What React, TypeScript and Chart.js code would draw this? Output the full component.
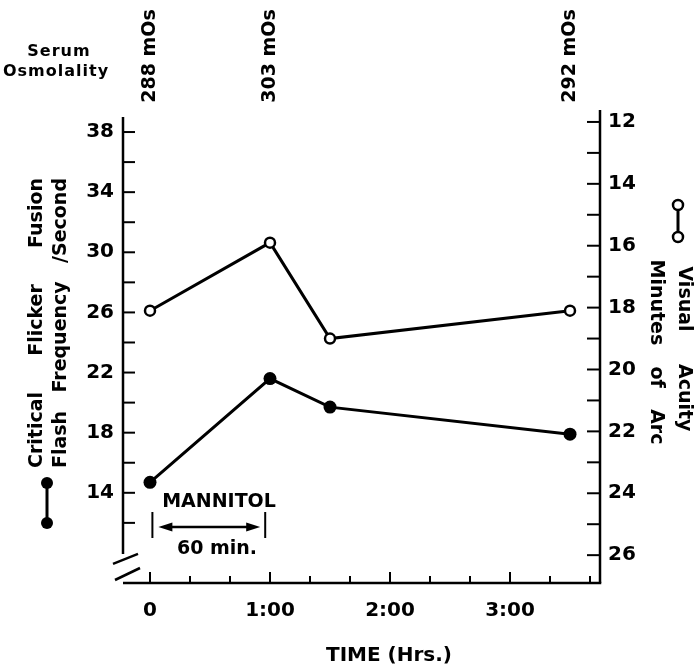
import React, { useEffect, useRef } from "react";
import { Chart, registerables } from "chart.js";

Chart.register(...registerables);

// ---- data ----
const TIME_HRS = [0, 1, 1.5, 3.5];
const CFF_VALUES = [14.7, 21.6, 19.7, 17.9];
const ACUITY_VALUES = [18.1, 15.9, 19.0, 18.1];

const OSMOLALITY_TIMES = [0, 1, 3.5];
const OSMOLALITY_LABELS = ["288 mOs", "303 mOs", "292 mOs"];

const X_LABEL_VALUES = [0, 1, 2, 3];
const X_LABEL_TEXT = ["0", "1:00", "2:00", "3:00"];
const X_MARK_VALUES = [0, 1 / 3, 2 / 3, 1, 4 / 3, 5 / 3, 2, 7 / 3, 8 / 3, 3, 10 / 3, 11 / 3];

const LEFT_LABEL_VALUES = [14, 18, 22, 26, 30, 34, 38];
const LEFT_MARK_VALUES = [12, 14, 16, 18, 20, 22, 24, 26, 28, 30, 32, 34, 36, 38];
const RIGHT_LABEL_VALUES = [12, 14, 16, 18, 20, 22, 24, 26];
const RIGHT_MARK_VALUES = [12, 13, 14, 15, 16, 17, 18, 19, 20, 21, 22, 23, 24, 25, 26];

const MANNITOL_SPAN = [0.02, 0.96];

const FONT = '"DejaVu Sans", sans-serif';

function line(ctx: CanvasRenderingContext2D, x1: number, y1: number, x2: number, y2: number) {
  ctx.beginPath();
  ctx.moveTo(x1, y1);
  ctx.lineTo(x2, y2);
  ctx.stroke();
}

function drawJustified(
  ctx: CanvasRenderingContext2D,
  words: string[],
  cx: number,
  cy: number,
  length: number,
  angle: number
) {
  ctx.save();
  ctx.translate(cx, cy);
  ctx.rotate(angle);
  ctx.textAlign = "left";
  ctx.textBaseline = "middle";
  const widths = words.map((w) => ctx.measureText(w).width);
  const total = widths.reduce((a, b) => a + b, 0);
  const gap = words.length > 1 ? (length - total) / (words.length - 1) : 0;
  let pos = -length / 2;
  words.forEach((w, i) => {
    ctx.fillText(w, pos, 0);
    pos += widths[i] + gap;
  });
  ctx.restore();
}

function circle(ctx: CanvasRenderingContext2D, x: number, y: number, r: number, filled: boolean) {
  ctx.beginPath();
  ctx.arc(x, y, r, 0, Math.PI * 2);
  if (filled) {
    ctx.fillStyle = "#000";
    ctx.fill();
  } else {
    ctx.fillStyle = "#fff";
    ctx.fill();
    ctx.lineWidth = 2.5;
    ctx.stroke();
  }
}

const decorPlugin = {
  id: "decor",
  beforeDatasetsDraw(chart: any) {
    const { ctx, chartArea: a, scales } = chart;
    const xs = scales.x;
    const yl = scales.yL;
    const yr = scales.yR;
    const lx = a.left;
    const rx = a.right;
    const by = a.bottom;
    ctx.save();
    ctx.strokeStyle = "#000";
    ctx.lineCap = "butt";
    ctx.lineWidth = 2.5;
    const breakTop = yl.getPixelForValue(10) + 1;
    line(ctx, lx, a.top, lx, breakTop);
    line(ctx, lx, by, rx + 1.25, by);
    line(ctx, rx, a.top - 7, rx, by);

    ctx.lineWidth = 2;
    LEFT_MARK_VALUES.forEach((v) => {
      const y = yl.getPixelForValue(v);
      line(ctx, lx, y, lx + 12, y);
    });
    RIGHT_MARK_VALUES.forEach((v) => {
      const y = yr.getPixelForValue(v);
      line(ctx, rx - 13, y, rx, y);
    });
    X_MARK_VALUES.forEach((v, i) => {
      const px = xs.getPixelForValue(v);
      const major = i % 3 === 0;
      line(ctx, px, by, px, by - (major ? 11 : 7));
    });

    // axis break
    ctx.lineWidth = 2.5;
    line(ctx, lx - 10, breakTop + 10, lx + 15, breakTop);
    line(ctx, lx - 8, by - 3, lx + 17, by - 15);
    ctx.restore();
  },
  afterDraw(chart: any) {
    const { ctx, scales } = chart;
    const xs = scales.x;
    ctx.save();
    ctx.fillStyle = "#000";
    ctx.strokeStyle = "#000";

    // Serum osmolality
    ctx.font = `bold 16px ${FONT}`;
    ctx.textAlign = "center";
    ctx.textBaseline = "middle";
    (ctx as any).letterSpacing = "1px";
    ctx.fillText("Serum", 59, 52);
    ctx.fillText("Osmolality", 56, 72);
    (ctx as any).letterSpacing = "0px";

    ctx.font = `bold 19px ${FONT}`;
    OSMOLALITY_TIMES.forEach((t, i) => {
      const px = xs.getPixelForValue(t);
      ctx.save();
      ctx.translate(px, 56);
      ctx.rotate(-Math.PI / 2);
      ctx.textAlign = "center";
      ctx.textBaseline = "middle";
      ctx.fillText(OSMOLALITY_LABELS[i], 0, 0);
      ctx.restore();
    });

    // left title
    ctx.font = `bold 19px ${FONT}`;
    drawJustified(ctx, ["Critical", "Flicker", "Fusion"], 37, 323, 290, -Math.PI / 2);
    drawJustified(ctx, ["Flash", "Frequency", "/Second"], 61, 323, 290, -Math.PI / 2);
    // right title
    drawJustified(ctx, ["Visual", "Acuity"], 684, 349, 165, Math.PI / 2);
    drawJustified(ctx, ["Minutes", "of", "Arc"], 656, 352, 185, Math.PI / 2);

    // legend symbols
    ctx.lineWidth = 3;
    line(ctx, 47, 483, 47, 523);
    circle(ctx, 47, 483, 6, true);
    circle(ctx, 47, 523, 6, true);
    ctx.lineWidth = 3;
    line(ctx, 678, 205, 678, 237);
    circle(ctx, 678, 205, 5, false);
    circle(ctx, 678, 237, 5, false);

    // mannitol annotation
    ctx.fillStyle = "#000";
    ctx.font = `bold 19px ${FONT}`;
    ctx.textAlign = "center";
    ctx.textBaseline = "middle";
    ctx.fillText("MANNITOL", 219, 502);
    ctx.fillText("60 min.", 217, 549);
    const x1 = xs.getPixelForValue(MANNITOL_SPAN[0]);
    const x2 = xs.getPixelForValue(MANNITOL_SPAN[1]);
    ctx.lineWidth = 2;
    line(ctx, x1, 512, x1, 538);
    line(ctx, x2, 512, x2, 538);
    const ay = 527;
    ctx.lineWidth = 2.5;
    line(ctx, x1 + 14, ay, x2 - 14, ay);
    ctx.beginPath();
    ctx.moveTo(x1 + 6, ay);
    ctx.lineTo(x1 + 20, ay - 4.5);
    ctx.lineTo(x1 + 20, ay + 4.5);
    ctx.closePath();
    ctx.fill();
    ctx.beginPath();
    ctx.moveTo(x2 - 5, ay);
    ctx.lineTo(x2 - 19, ay - 4.5);
    ctx.lineTo(x2 - 19, ay + 4.5);
    ctx.closePath();
    ctx.fill();

    // x title
    ctx.font = `bold 20px ${FONT}`;
    ctx.textAlign = "center";
    ctx.textBaseline = "middle";
    ctx.fillText("TIME (Hrs.)", 389, 656);
    ctx.restore();
  },
};

export default function App() {
  const ref = useRef<HTMLCanvasElement | null>(null);

  useEffect(() => {
    document.body.style.margin = "0";
    document.body.style.overflow = "hidden";
    const canvas = ref.current;
    if (!canvas) return;
    const tickFont = { family: FONT, size: 20, weight: "bold" as const };
    const chart = new Chart(canvas, {
      type: "line",
      data: {
        datasets: [
          {
            label: "Critical Flicker Fusion",
            data: TIME_HRS.map((t, i) => ({ x: t, y: CFF_VALUES[i] })),
            xAxisID: "x",
            yAxisID: "yL",
            borderColor: "#000",
            borderWidth: 3,
            pointRadius: 6.5,
            pointBackgroundColor: "#000",
            pointBorderColor: "#000",
            pointBorderWidth: 0,
            tension: 0,
            fill: false,
          },
          {
            label: "Visual Acuity",
            data: TIME_HRS.map((t, i) => ({ x: t, y: ACUITY_VALUES[i] })),
            xAxisID: "x",
            yAxisID: "yR",
            borderColor: "#000",
            borderWidth: 3,
            pointRadius: 5,
            pointBackgroundColor: "#fff",
            pointBorderColor: "#000",
            pointBorderWidth: 2.5,
            tension: 0,
            fill: false,
          },
        ],
      },
      options: {
        animation: false,
        responsive: false,
        maintainAspectRatio: false,
        layout: { padding: { top: 117, left: 0, right: 0, bottom: 0 } },
        plugins: {
          legend: { display: false },
          tooltip: { enabled: false },
          title: { display: false },
        },
        scales: {
          x: {
            type: "linear",
            position: "bottom",
            min: -0.225,
            max: 3.75,
            grid: { display: false, drawTicks: false },
            border: { display: false },
            afterBuildTicks: (s: any) => {
              s.ticks = X_LABEL_VALUES.map((v) => ({ value: v }));
            },
            afterFit: (s: any) => {
              s.height = 83;
            },
            ticks: {
              padding: 16,
              color: "#000",
              font: tickFont,
              maxRotation: 0,
              autoSkip: false,
              callback: (v: any) => {
                const i = X_LABEL_VALUES.indexOf(Number(v));
                return i >= 0 ? X_LABEL_TEXT[i] : "";
              },
            },
          },
          yL: {
            type: "linear",
            position: "left",
            min: 8,
            max: 39,
            grid: { display: false, drawTicks: false },
            border: { display: false },
            afterBuildTicks: (s: any) => {
              s.ticks = LEFT_LABEL_VALUES.map((v) => ({ value: v }));
            },
            afterFit: (s: any) => {
              s.width = 123;
            },
            ticks: {
              padding: 9,
              color: "#000",
              font: tickFont,
              autoSkip: false,
              callback: (v: any) => String(v),
            },
          },
          yR: {
            type: "linear",
            position: "right",
            reverse: true,
            min: 11.84,
            max: 26.9,
            grid: { display: false, drawTicks: false },
            border: { display: false },
            afterBuildTicks: (s: any) => {
              s.ticks = RIGHT_LABEL_VALUES.map((v) => ({ value: v }));
            },
            afterFit: (s: any) => {
              s.width = 100;
            },
            ticks: {
              padding: 8,
              color: "#000",
              font: tickFont,
              autoSkip: false,
              callback: (v: any) => String(v),
            },
          },
        },
      } as any,
      plugins: [decorPlugin],
    });
    return () => chart.destroy();
  }, []);

  return (
    <div style={{ width: 700, height: 666, background: "#fff" }}>
      <canvas ref={ref} width={700} height={666} style={{ display: "block" }} />
    </div>
  );
}
